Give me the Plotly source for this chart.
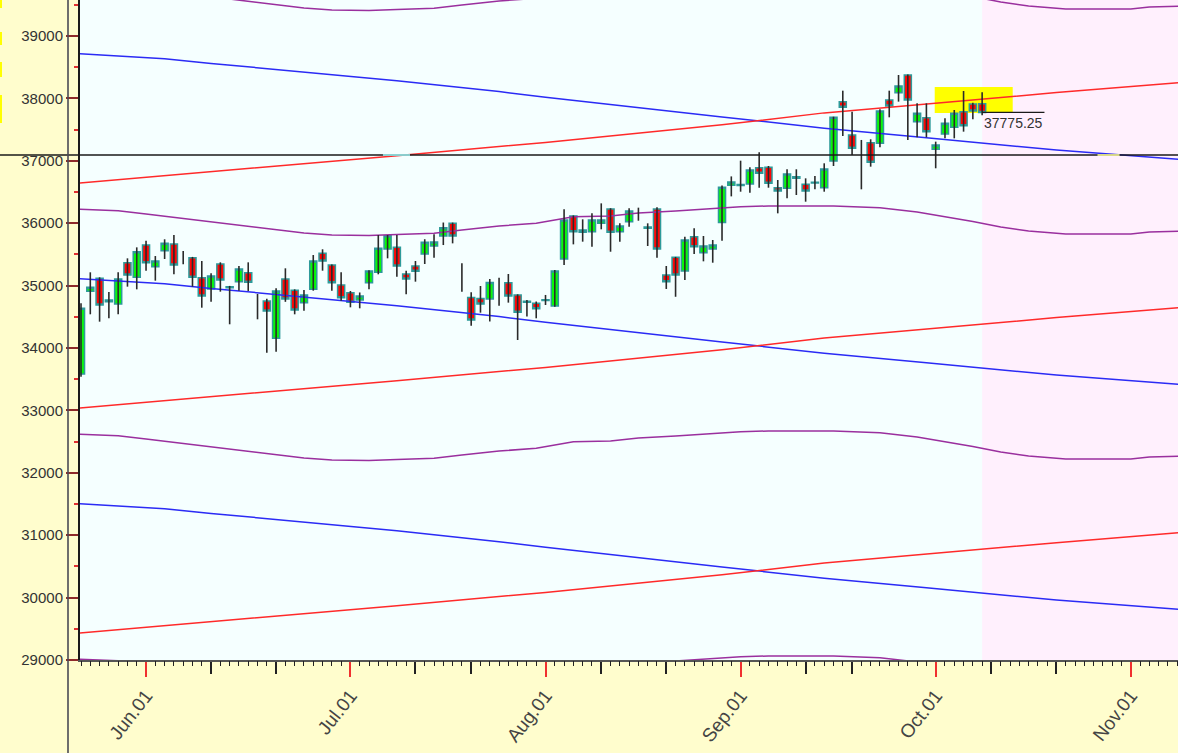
import pandas as pd
import plotly.graph_objects as go

# ---------------- calendar (trading sessions) ----------------
exchange_holidays = ["2021-07-21", "2021-08-19", "2021-09-10"]
session_start = "2021-05-21"
session_end = "2021-11-09"
n_candles = 98

# ---------------- daily OHLC ----------------
opens = [33583, 34908, 35117, 34769, 34705, 35367, 35133, 35651, 35303, 35560,
         35667, 35450, 35447, 35127, 34946, 35346, 34965, 35063, 35207, 34700,
         34753, 34155, 35106, 34925, 34727, 34940, 35517, 35330, 35010, 34887,
         34770, 35046, 35213, 35586, 35613, 35186, 35314, 35506, 35634, 35795,
         35998, 35130, 34811, 34795, 34786, 34900, 35046, 34850, 34750, 34717,
         34760, 34673, 35426, 36115, 35891, 35864, 35998, 36228, 35864, 36024,
         36140, 35940, 36228, 35170, 35453, 35234, 35784, 35528, 35586, 36011,
         36610, 36620, 36628, 36890, 36896, 36569, 36559, 36746, 36623, 36655,
         36569, 36997, 37948, 37414, 37000, 37291, 37280, 37975, 38092, 38375,
         37627, 37691, 37184, 37429, 37537, 37788, 37910, 37915]
highs = [34716, 35213, 35133, 34898, 35213, 35437, 35613, 35720, 35474, 35742,
         35811, 35555, 35460, 35394, 35197, 35373, 34995, 35314, 35373, 34866,
         34791, 34956, 35277, 34940, 34930, 35490, 35582, 35340, 35213, 34914,
         34890, 35245, 35811, 35811, 35811, 35240, 35394, 35743, 35822, 36011,
         36010, 35357, 34893, 34994, 35106, 35127, 35186, 34860, 34770, 34745,
         34850, 35250, 36222, 36125, 36062, 36158, 36318, 36240, 35998, 36238,
         36249, 35998, 36255, 35314, 35460, 35784, 35918, 35795, 35731, 36604,
         36750, 37002, 36896, 37136, 36917, 36692, 36864, 36864, 36719, 36757,
         36960, 37707, 38124, 37788, 37334, 37345, 37825, 38124, 38375, 38385,
         37921, 37921, 37307, 37681, 37814, 38119, 37931, 38100]
lows = [33540, 34540, 34422, 34476, 34540, 34983, 34940, 35239, 35079, 35426,
        35181, 35341, 34983, 34646, 34742, 34903, 34380, 34919, 34914, 34460,
        33925, 33941, 34740, 34540, 34598, 34919, 35239, 34919, 34758, 34652,
        34636, 34940, 35181, 35437, 35143, 34861, 35063, 35346, 35447, 35650,
        35677, 34903, 34357, 34566, 34425, 34678, 34727, 34128, 34503, 34476,
        34689, 34662, 35330, 35661, 35704, 35624, 35902, 35543, 35704, 35944,
        36040, 35635, 35447, 34946, 34821, 35090, 35506, 35389, 35367, 35720,
        36430, 36505, 36489, 36569, 36569, 36158, 36399, 36452, 36345, 36543,
        36505, 36917, 37397, 37093, 36543, 36906, 37216, 37697, 37948, 37334,
        37376, 37376, 36880, 37360, 37360, 37467, 37665, 37730]
closes = [34636, 34972, 34689, 34740, 35106, 35170, 35544, 35367, 35394, 35678,
          35330, 35450, 35133, 34833, 35154, 35090, 34983, 35266, 35053, 34700,
          34593, 34914, 34785, 34609, 34850, 35394, 35394, 35046, 34806, 34732,
          34833, 35234, 35597, 35800, 35314, 35106, 35229, 35693, 35698, 35928,
          35795, 35130, 34449, 34705, 35050, 34900, 34833, 34571, 34735, 34630,
          34775, 35234, 36051, 35864, 35854, 36051, 36051, 35854, 35955, 36195,
          36140, 35920, 35586, 35063, 35170, 35731, 35624, 35635, 35651, 36577,
          36660, 36605, 36853, 36800, 36639, 36516, 36789, 36719, 36516, 36645,
          36869, 37697, 37857, 37200, 37000, 36976, 37798, 37878, 38199, 37975,
          37761, 37467, 37253, 37601, 37761, 37563, 37798, 37775.25]

# ---------------- band lines ----------------
purple_dates = ["2021-05-20", "2021-05-27", "2021-06-01", "2021-06-09", "2021-06-16",
                "2021-06-24", "2021-06-29", "2021-07-05", "2021-07-08", "2021-07-14",
                "2021-07-19", "2021-07-26", "2021-07-30", "2021-08-05", "2021-08-11",
                "2021-08-16", "2021-08-23", "2021-08-26", "2021-09-01", "2021-09-06",
                "2021-09-16", "2021-09-23", "2021-09-29", "2021-10-07", "2021-10-12",
                "2021-10-15", "2021-10-21", "2021-11-01", "2021-11-03", "2021-11-09"]
purple_top = [39834, 39807, 39754, 39646, 39545, 39449, 39417, 39409, 39425, 39444,
              39497, 39561, 39604, 39710, 39722, 39770, 39802, 39834, 39871, 39882,
              39882, 39855, 39786, 39633, 39545, 39481, 39433, 39433, 39465, 39481]
purple_mid = [36228, 36201, 36148, 36040, 35939, 35843, 35811, 35803, 35819, 35838,
              35891, 35955, 35998, 36104, 36116, 36164, 36196, 36228, 36265, 36276,
              36276, 36249, 36180, 36027, 35939, 35875, 35827, 35827, 35859, 35875]
purple_low = [32622, 32595, 32542, 32434, 32333, 32237, 32205, 32197, 32213, 32232,
              32285, 32349, 32392, 32498, 32510, 32558, 32590, 32622, 32659, 32670,
              32670, 32643, 32574, 32421, 32333, 32269, 32221, 32221, 32253, 32269]
purple_bot = [29016, 28989, 28936, 28828, 28727, 28631, 28599, 28591, 28607, 28626,
              28679, 28743, 28786, 28892, 28904, 28952, 28984, 29016, 29053, 29064,
              29064, 29037, 28968, 28815, 28727, 28663, 28615, 28615, 28647, 28663]

red_dates = ["2021-05-20", "2021-06-24", "2021-07-08", "2021-08-02", "2021-08-30",
             "2021-09-15", "2021-09-30", "2021-10-20", "2021-11-09"]
red_top = [36633, 36949, 37082, 37295, 37577, 37768, 37915, 38093, 38263]
red_mid = [33027, 33343, 33476, 33689, 33971, 34162, 34309, 34487, 34657]
red_bot = [29421, 29737, 29870, 30083, 30365, 30556, 30703, 30881, 31051]

blue_dates = ["2021-05-20", "2021-06-03", "2021-06-10", "2021-06-25", "2021-07-08",
              "2021-07-26", "2021-08-02", "2021-08-30", "2021-09-15", "2021-09-30",
              "2021-10-20", "2021-11-09"]
blue_top = [38723, 38636, 38561, 38414, 38284, 38109, 38019, 37702, 37523, 37369, 37173, 37013]
blue_mid = [35117, 35030, 34955, 34808, 34678, 34503, 34413, 34096, 33917, 33763, 33567, 33407]
blue_bot = [31511, 31424, 31349, 31202, 31072, 30897, 30807, 30490, 30311, 30157, 29961, 29801]

reference_level = 37093
last_label = "37775.25"
highlight_box = {"x0": "2021-09-30 21:30", "x1": "2021-10-13 07:00", "y0": 37766, "y1": 38183}
label_line_end = "2021-10-18 17:00"
cross_marks = [("2021-07-06 12:00", "2021-07-09 10:00", "#9CF6F6"),
               ("2021-10-26 10:00", "2021-10-28 19:00", "#FFFF99")]

month_ticks = ["2021-06-01", "2021-07-01", "2021-08-02", "2021-09-01", "2021-10-01", "2021-11-01"]
month_labels = ["Jun.01", "Jul.01", "Aug.01", "Sep.01", "Oct.01", "Nov.01"]
x_range = ["2021-05-20 21:24", "2021-11-08 02:00"]
y_range = [29000, 39577]

# ---------------- derived ----------------
all_days = pd.bdate_range(session_start, session_end, freq="C", holidays=exchange_holidays)
dates = list(all_days[:n_candles])
last_date = dates[-1]

mid_ticks = []
for m in range(6, 11):
    for d in (10, 20):
        t = pd.Timestamp(2021, m, d)
        mid_ticks.append(next(x for x in all_days if x >= t))
month_ts = set(pd.Timestamp(t) for t in month_ticks)
mid_ts = set(mid_ticks)
short_ticks = [d for d in all_days if d not in month_ts and d not in mid_ts]

rangebreaks = [dict(bounds=["sat", "mon"]), dict(values=exchange_holidays)]

fig = go.Figure()

# band lines
def add_line(xs, ys, color):
    fig.add_trace(go.Scatter(x=xs, y=ys, mode="lines", line=dict(color=color, width=1.5),
                             showlegend=False, hoverinfo="skip"))

for ys in (purple_top, purple_mid, purple_low, purple_bot):
    add_line(purple_dates, ys, "#9A2F9E")
for ys in (blue_top, blue_mid, blue_bot):
    add_line(blue_dates, ys, "#2B2BF5")
for ys in (red_top, red_mid, red_bot):
    add_line(red_dates, ys, "#FF2A2A")

# wicks
wx, wy = [], []
for d, h, l in zip(dates, highs, lows):
    wx += [d, d, None]
    wy += [l, h, None]
fig.add_trace(go.Scatter(x=wx, y=wy, mode="lines", line=dict(color="#2a2a2a", width=1.6),
                         showlegend=False, hoverinfo="skip"))

# bodies
bi = [i for i in range(n_candles) if opens[i] != closes[i]]
fig.add_trace(go.Candlestick(
    x=[dates[i] for i in bi],
    open=[opens[i] for i in bi],
    close=[closes[i] for i in bi],
    high=[max(opens[i], closes[i]) for i in bi],
    low=[min(opens[i], closes[i]) for i in bi],
    increasing=dict(fillcolor="#08F808", line=dict(color="#2E9A9A", width=1.5)),
    decreasing=dict(fillcolor="#FF0505", line=dict(color="#2E9A9A", width=1.5)),
    whiskerwidth=0, showlegend=False, hoverinfo="skip"))

# dummy trace for the overlay axis carrying the daily ticks
fig.add_trace(go.Scatter(x=[dates[0]], y=[None], xaxis="x2", mode="markers",
                         showlegend=False, hoverinfo="skip"))

shapes = []
# future zone
shapes.append(dict(type="rect", xref="x", yref="paper", x0=last_date, x1="2021-11-10",
                   y0=0, y1=1, fillcolor="#FFF0FD", line=dict(width=0), layer="below"))
# yellow highlight box
shapes.append(dict(type="rect", xref="x", yref="y", x0=highlight_box["x0"], x1=highlight_box["x1"],
                   y0=highlight_box["y0"], y1=highlight_box["y1"], fillcolor="#FFFF00",
                   line=dict(width=0), layer="below"))
# reference level across the whole width
shapes.append(dict(type="line", xref="paper", yref="y", x0=-80 / 1098, x1=1,
                   y0=reference_level, y1=reference_level, line=dict(color="#1a1a1a", width=1.4),
                   layer="above"))
for x0, x1, c in cross_marks:
    shapes.append(dict(type="line", xref="x", yref="y", x0=x0, x1=x1, y0=reference_level,
                       y1=reference_level, line=dict(color=c, width=1.6), layer="above"))
# last price guide
shapes.append(dict(type="line", xref="x", yref="y", x0=last_date, x1=label_line_end,
                   y0=closes[-1], y1=closes[-1], line=dict(color="#1a1a1a", width=1.2)))
# left vertical rule in margin
shapes.append(dict(type="line", xref="paper", yref="paper", x0=-12 / 1098, x1=-12 / 1098,
                   y0=-93 / 660, y1=1, line=dict(color="#4a4a55", width=1.6)))
# small yellow marks at the far left edge
for a, b in [(0, 8), (32, 45), (62, 77), (95, 123)]:
    shapes.append(dict(type="rect", xref="paper", yref="paper", x0=-80 / 1098, x1=-78 / 1098,
                       y0=(660 - b) / 660, y1=(660 - a) / 660, fillcolor="#FFFF00",
                       line=dict(width=0)))

fig.update_layout(
    width=1178, height=753,
    margin=dict(l=80, r=0, t=0, b=93),
    paper_bgcolor="#FFFDCD",
    plot_bgcolor="#F5FFFF",
    showlegend=False,
    boxmode="overlay", boxgap=0.05, boxgroupgap=0.2,
    shapes=shapes,
    annotations=[dict(x=last_date, y=closes[-1], xref="x", yref="y", text=last_label,
                      showarrow=False, xanchor="left", yanchor="top", xshift=0, yshift=-1,
                      font=dict(family="Arial", size=14, color="#333333"))],
    xaxis=dict(
        type="date", range=x_range, rangebreaks=rangebreaks,
        tickmode="array", tickvals=month_ticks, ticktext=month_labels,
        ticks="outside", ticklen=15, tickwidth=1.5, tickcolor="#F03030",
        tickangle=-52, tickfont=dict(family="Arial", size=19, color="#444444"),
        showline=True, linecolor="#555555", linewidth=2,
        showgrid=False, zeroline=False,
        minor=dict(tickmode="array", tickvals=mid_ticks, ticks="outside", ticklen=12,
                   tickwidth=1.5, tickcolor="#222222", showgrid=False),
        rangeslider=dict(visible=False),
    ),
    xaxis2=dict(
        type="date", overlaying="x", anchor="y", side="bottom",
        range=x_range, rangebreaks=rangebreaks,
        tickmode="array", tickvals=short_ticks, ticks="outside", ticklen=5,
        tickwidth=1.2, tickcolor="#222222", showticklabels=False,
        showline=False, showgrid=False, zeroline=False,
    ),
    yaxis=dict(
        range=y_range, tick0=29000, dtick=1000, tickformat="d",
        ticks="outside", ticklen=12, tickwidth=1.5, tickcolor="#8E2A2A",
        tickfont=dict(family="Arial", size=15, color="#333333"),
        showline=True, linecolor="#1a1a1a", linewidth=2,
        showgrid=False, zeroline=False,
        minor=dict(dtick=500, ticks="outside", ticklen=4, tickwidth=1.5, tickcolor="#E03030"),
    ),
)

fig.write_html("out.html", config={"displayModeBar": False},
               post_script="document.body.style.margin='0';document.body.style.overflow='hidden';")
